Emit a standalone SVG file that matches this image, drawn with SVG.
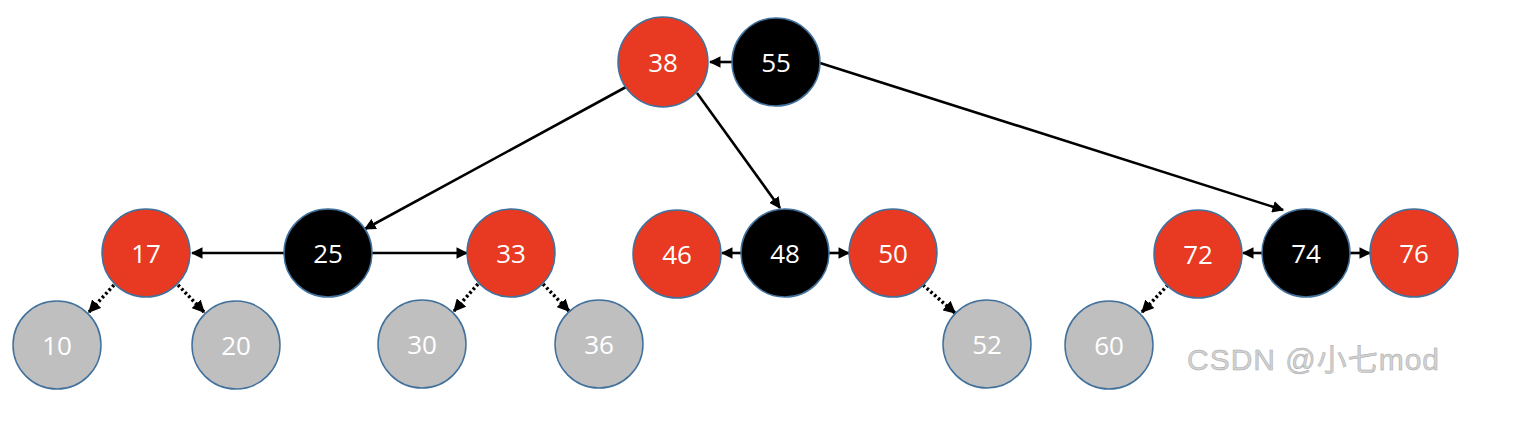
<svg xmlns="http://www.w3.org/2000/svg" width="1538" height="422" viewBox="0 0 1538 422">
<style>
.n circle{stroke:#41719C;stroke-width:1.5}
.red circle{fill:#E83A22}
.blk circle{fill:#000}
.gry circle{fill:#BFBFBF}
.n text{font-family:"Open Sans","Liberation Sans",sans-serif;font-size:26px;fill:#fff;text-anchor:middle;dominant-baseline:central}
.e{stroke:#000;stroke-width:2.6;fill:none}
.d{stroke:#000;stroke-width:3.5;stroke-dasharray:2.5 2.5;fill:none}
.wm{font-family:"Liberation Sans","Noto Sans CJK SC",sans-serif;font-size:30px;fill:#d2d2d2;stroke:#a8a8a8;stroke-width:0.5}
</style>
<defs>
<marker id="a" viewBox="0 0 10 10" refX="9" refY="5" markerWidth="4.5" markerHeight="4.5" orient="auto" markerUnits="strokeWidth">
<path d="M0,0 L10,5 L0,10 Z" fill="#000"/>
</marker>
<marker id="ad" viewBox="0 0 10 10" refX="9" refY="5" markerWidth="3.6" markerHeight="3.6" orient="auto" markerUnits="strokeWidth">
<path d="M0,0 L10,5 L0,10 Z" fill="#000"/>
</marker>
</defs>
<rect width="1538" height="422" fill="#fff"/>
<g id="edges">
<line class="e" x1="732" y1="62" x2="710" y2="62" marker-end="url(#a)"/>
<line class="e" x1="626" y1="87" x2="365" y2="229" marker-end="url(#a)"/>
<line class="e" x1="697" y1="93" x2="780" y2="208" marker-end="url(#a)"/>
<line class="e" x1="820" y1="63" x2="1283" y2="210" marker-end="url(#a)"/>
<line class="e" x1="284" y1="253" x2="192" y2="253" marker-end="url(#a)"/>
<line class="e" x1="372" y1="253" x2="467" y2="253" marker-end="url(#a)"/>
<line class="e" x1="741" y1="253" x2="722" y2="253" marker-end="url(#a)"/>
<line class="e" x1="829" y1="253" x2="849" y2="253" marker-end="url(#a)"/>
<line class="e" x1="1262" y1="253" x2="1243" y2="253" marker-end="url(#a)"/>
<line class="e" x1="1350" y1="253" x2="1370" y2="253" marker-end="url(#a)"/>
<line class="d" x1="114" y1="285" x2="89" y2="312" marker-end="url(#ad)"/>
<line class="d" x1="178" y1="285" x2="204" y2="312" marker-end="url(#ad)"/>
<line class="d" x1="478" y1="284" x2="454" y2="311" marker-end="url(#ad)"/>
<line class="d" x1="543" y1="284" x2="569" y2="311" marker-end="url(#ad)"/>
<line class="d" x1="923" y1="285" x2="955" y2="313" marker-end="url(#ad)"/>
<line class="d" x1="1168" y1="285" x2="1142" y2="312" marker-end="url(#ad)"/>
</g>
<g id="n38" class="n red"><circle cx="663" cy="62" r="45"/><text x="663" y="62">38</text></g>
<g id="n55" class="n blk"><circle cx="776" cy="62" r="44"/><text x="776" y="62">55</text></g>
<g id="n17" class="n red"><circle cx="146" cy="253" r="44"/><text x="146" y="253">17</text></g>
<g id="n25" class="n blk"><circle cx="328" cy="253" r="44"/><text x="328" y="253">25</text></g>
<g id="n33" class="n red"><circle cx="511" cy="253" r="44"/><text x="511" y="253">33</text></g>
<g id="n46" class="n red"><circle cx="677" cy="254" r="44"/><text x="677" y="254">46</text></g>
<g id="n48" class="n blk"><circle cx="785" cy="253" r="44"/><text x="785" y="253">48</text></g>
<g id="n50" class="n red"><circle cx="893" cy="253" r="44"/><text x="893" y="253">50</text></g>
<g id="n72" class="n red"><circle cx="1198" cy="254" r="44"/><text x="1198" y="254">72</text></g>
<g id="n74" class="n blk"><circle cx="1306" cy="253" r="44"/><text x="1306" y="253">74</text></g>
<g id="n76" class="n red"><circle cx="1414" cy="253" r="44"/><text x="1414" y="253">76</text></g>
<g id="n10" class="n gry"><circle cx="57" cy="345" r="44"/><text x="57" y="345">10</text></g>
<g id="n20" class="n gry"><circle cx="236" cy="345" r="44"/><text x="236" y="345">20</text></g>
<g id="n30" class="n gry"><circle cx="422" cy="344" r="44"/><text x="422" y="344">30</text></g>
<g id="n36" class="n gry"><circle cx="599" cy="344" r="44"/><text x="599" y="344">36</text></g>
<g id="n52" class="n gry"><circle cx="987" cy="344" r="44"/><text x="987" y="344">52</text></g>
<g id="n60" class="n gry"><circle cx="1109" cy="345" r="44"/><text x="1109" y="345">60</text></g>
<text class="wm" x="1187" y="370" textLength="252">CSDN @小七mod</text>
</svg>
